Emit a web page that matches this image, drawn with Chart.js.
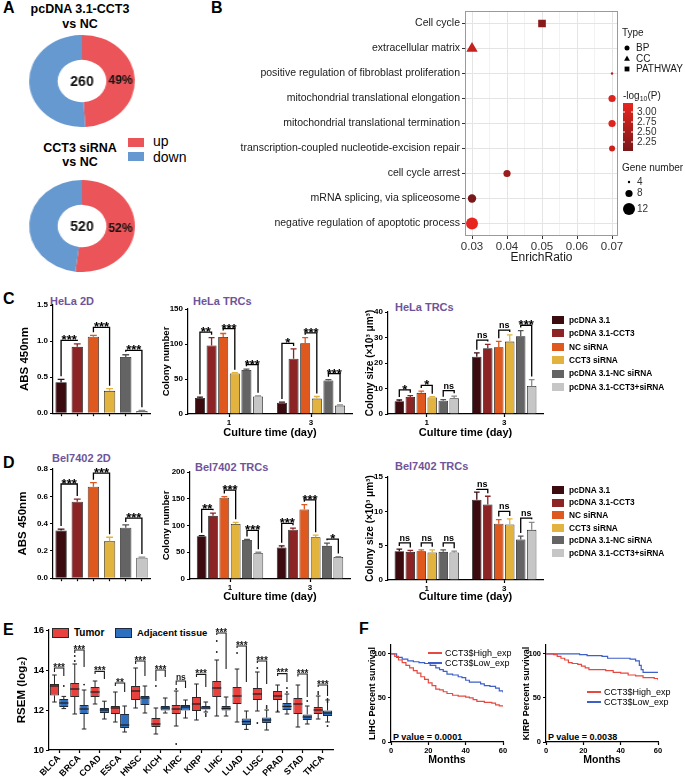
<!DOCTYPE html>
<html>
<head>
<meta charset="utf-8">
<script src="https://cdn.jsdelivr.net/npm/chart.js@4.4.1/dist/chart.umd.min.js"></script>
<style>
  body { margin: 0; background: #fff; }
  #page { position: relative; width: 685px; height: 780px; overflow: hidden;
          font-family: "Liberation Sans", Arial, sans-serif; color: #000; }
  .box { position: absolute; }
  .t { position: absolute; white-space: nowrap; font-weight: bold; line-height: 1; }
  .letter { font-size: 16px; }
  .ttl { font-size: 11px; color: #6f5499; }
  .sw { position: absolute; }
</style>
</head>
<body>
<div id="page">
  <!-- panel letters -->
  <div class="t letter" style="left:3px;top:0px">A</div>
  <div class="t letter" style="left:211px;top:0px">B</div>
  <div class="t letter" style="left:3px;top:291px">C</div>
  <div class="t letter" style="left:3px;top:455px">D</div>
  <div class="t letter" style="left:3px;top:622px">E</div>
  <div class="t letter" style="left:359px;top:621px">F</div>

  <!-- A titles + legend -->
  <div class="t" style="left:0;width:160px;text-align:center;top:3px;font-size:12.5px">pcDNA 3.1-CCT3</div>
  <div class="t" style="left:0;width:160px;text-align:center;top:18px;font-size:12.5px">vs NC</div>
  <div class="t" style="left:0;width:160px;text-align:center;top:142px;font-size:12.5px">CCT3 siRNA</div>
  <div class="t" style="left:0;width:160px;text-align:center;top:156px;font-size:12.5px">vs NC</div>
  <div class="sw" style="left:128px;top:138px;width:16px;height:9px;background:#eb5458"></div>
  <div class="t" style="left:153px;top:134px;font-size:14px;font-weight:normal">up</div>
  <div class="sw" style="left:128px;top:152px;width:16px;height:9px;background:#6699cf"></div>
  <div class="t" style="left:153px;top:150px;font-size:14px;font-weight:normal">down</div>

  <!-- purple titles -->
  <div class="t ttl" style="left:50px;top:295.6px">HeLa 2D</div>
  <div class="t ttl" style="left:193px;top:295.6px">HeLa TRCs</div>
  <div class="t ttl" style="left:395px;top:301.6px">HeLa TRCs</div>
  <div class="t ttl" style="left:52px;top:452.6px">Bel7402 2D</div>
  <div class="t ttl" style="left:195px;top:461.6px">Bel7402 TRCs</div>
  <div class="t ttl" style="left:395px;top:460.6px">Bel7402 TRCs</div>

  <!-- E legend -->
  <div class="sw" style="left:52px;top:628px;width:15px;height:8px;background:#e8413e;border:1px solid #2a2a2a"></div>
  <div class="t" style="left:74px;top:627.5px;font-size:10px">Tumor</div>
  <div class="sw" style="left:115px;top:628px;width:15px;height:8px;background:#2f6fbf;border:1px solid #1d2a3c"></div>
  <div class="t" style="left:137px;top:627.5px;font-size:9.5px">Adjacent tissue</div>

  <!-- F p values -->
  <div class="t" style="left:393px;top:732.5px;font-size:9px">P value = 0.0001</div>
  <div class="t" style="left:548px;top:732.5px;font-size:9px">P value = 0.0038</div>
</div>

<script>
Chart.defaults.font.family = '"Liberation Sans", Arial, sans-serif';
Chart.defaults.color = '#000';
Chart.defaults.animation = false;
Chart.defaults.maintainAspectRatio = false;
Chart.defaults.plugins.legend.display = false;
Chart.defaults.plugins.tooltip.enabled = false;

// ---------------- A: DEG donuts ----------------
const donutLabels = ['up', 'down'];
const donutColors = ['#eb5458', '#6699cf'];
const a1Share = [49, 51];
const a1Total = 260;
const a2Share = [52, 48];
const a2Total = 520;

// ---------------- B: enrichment ----------------
const bTerms = ['Cell cycle', 'extracellular matrix', 'positive regulation of fibroblast proliferation',
  'mitochondrial translational elongation', 'mitochondrial translational termination',
  'transcription-coupled nucleotide-excision repair', 'cell cycle arrest',
  'mRNA splicing, via spliceosome', 'negative regulation of apoptotic process'];
const bRatio = [0.05, 0.03, 0.07, 0.07, 0.07, 0.07, 0.04, 0.03, 0.03];
const bType = ['PATHWAY', 'CC', 'BP', 'BP', 'BP', 'BP', 'BP', 'BP', 'BP'];
const bLogP = [2.2, 2.85, 2.7, 3.1, 3.1, 2.95, 2.4, 2.05, 3.2];
const bGenes = [11, 13, 4, 8, 8, 7, 8, 9, 12];
const bTypeKeys = ['BP', 'CC', 'PATHWAY'];
const bLogPTicks = [3.00, 2.75, 2.50, 2.25];
const bGeneTicks = [4, 8, 12];

// ---------------- C / D: bars ----------------
const groups = ['pcDNA 3.1', 'pcDNA 3.1-CCT3', 'NC siRNA', 'CCT3 siRNA', 'pcDNA 3.1-NC siRNA', 'pcDNA 3.1-CCT3+siRNA'];
const groupColors = ['#3b0b10', '#8c2325', '#df591f', '#e3b33f', '#646464', '#c6c6c6'];
const errColors = ['#3b0b10', '#8c2325', '#df591f', '#e3b33f', '#555555', '#8a8a8a'];
const days = ['1', '3'];
const pairs = [[0, 1], [2, 3], [4, 5]];

const c1Mean = [0.43, 0.92, 1.06, 0.31, 0.78, 0.03];
const c1Err = [0.04, 0.04, 0.02, 0.03, 0.03, 0.01];
const c1SigY = [1.01, 1.19, 0.87];
const c1Sig = ['***', '***', '***'];

const c2Day1 = [23, 98, 110, 58, 63, 25];
const c2Err1 = [1, 11, 5, 1, 1, 1];
const c2Day3 = [16, 79, 101, 22, 48, 12];
const c2Err3 = [1, 14, 8, 3, 1, 1];
const c2SigY = [117, 122, 70.5, 101, 116, 57.6];
const c2Sig = ['**', '***', '***', '*', '***', '***'];

const c3Day1 = [5.0, 6.7, 8.3, 6.5, 5.2, 6.2];
const c3Err1 = [0.5, 0.5, 0.7, 0.3, 0.4, 0.8];
const c3Day3 = [22.5, 25.8, 26.2, 28.4, 30.5, 11.0];
const c3Err3 = [1.5, 1.5, 2.3, 2.6, 2.2, 2.5];
const c3SigY = [9.5, 11.2, 9.2, 29, 32.9, 34.8];
const c3Sig = ['*', '*', 'ns', 'ns', 'ns', '***'];

const d1Mean = [0.35, 0.56, 0.67, 0.27, 0.37, 0.15];
const d1Err = [0.01, 0.02, 0.03, 0.03, 0.02, 0.005];
const d1SigY = [0.69, 0.77, 0.44];
const d1Sig = ['***', '***', '***'];

const d2Day1 = [80, 118, 152, 103, 73, 48];
const d2Err1 = [1, 5, 2, 3, 1, 2];
const d2Day3 = [59, 92, 130, 78, 62, 41];
const d2Err3 = [3, 3, 9, 4, 5, 1];
const d2SigY = [130, 166, 91, 104, 148, 74.5];
const d2Sig = ['**', '***', '***', '***', '***', '*'];

const d3Day1 = [4.2, 4.1, 4.2, 4.0, 4.1, 4.0];
const d3Err1 = [0.3, 0.2, 0.2, 0.4, 0.3, 0.2];
const d3Day3 = [11.7, 11.0, 8.2, 8.1, 5.9, 7.3];
const d3Err3 = [1.1, 1.2, 0.6, 0.8, 0.5, 1.1];
const d3SigY = [5.4, 5.4, 5.4, 13.2, 10.0, 9.0];
const d3Sig = ['ns', 'ns', 'ns', 'ns', 'ns', 'ns'];

// ---------------- E: box plots ----------------
const eCats = ['BLCA', 'BRCA', 'COAD', 'ESCA', 'HNSC', 'KICH', 'KIRC', 'KIRP', 'LIHC', 'LUAD', 'LUSC', 'PRAD', 'STAD', 'THCA'];
const eSeries = ['Tumor', 'Adjacent tissue'];
const tMin = [12.4, 11.8, 12.3, 11.4, 12.1, 10.8, 11.2, 11.5, 11.7, 11.4, 11.95, 11.9, 11.15, 11.55];
const tQ1  = [12.73, 12.65, 12.65, 11.8, 12.5, 11.15, 11.8, 11.95, 12.65, 12.3, 12.5, 12.5, 11.8, 11.8];
const tMed = [13.2, 13.05, 12.9, 12.1, 12.95, 11.3, 12.05, 12.3, 13.1, 12.7, 12.8, 12.7, 12.3, 12.0];
const tQ3  = [13.3, 13.35, 13.15, 12.2, 13.2, 11.6, 12.25, 12.65, 13.45, 13.15, 13.1, 12.95, 12.6, 12.15];
const tMax = [13.75, 14.3, 13.45, 12.9, 14.1, 12.1, 12.95, 13.3, 14.5, 14.05, 13.9, 13.25, 13.25, 12.7];
const tOut = [[], [14.45, 14.7], [], [], [], [13.2], [13.05, 10.3], [], [14.9, 15.45], [14.85], [14.1, 11.35], [11.95], [], [12.8, 12.9]];
const aMin = [12.07, 11.05, 11.55, 10.9, 11.85, 11.85, 11.6, 11.9, 11.7, 11.03, 11.0, 11.8, 11.3, 11.4];
const aQ1  = [12.15, 11.8, 11.85, 11.1, 12.25, 11.97, 11.97, 12.02, 11.98, 11.25, 11.35, 12.0, 11.5, 11.7];
const aMed = [12.35, 12.05, 12.0, 11.25, 12.6, 12.1, 12.15, 12.1, 12.08, 11.42, 11.5, 12.18, 11.65, 11.85];
const aQ3  = [12.55, 12.25, 12.1, 11.8, 12.7, 12.2, 12.25, 12.2, 12.2, 11.57, 11.62, 12.35, 11.78, 11.98];
const aMax = [12.68, 13.0, 12.44, 12.2, 13.2, 12.6, 12.5, 12.4, 12.65, 11.95, 12.0, 12.8, 12.2, 12.5];
const aOut = [[13.2], [13.27], [], [], [], [], [], [11.8, 11.7], [], [], [12.1, 12.2], [13.1, 12.9], [12.45], [12.55, 12.4, 11.2]];
const eSigY = [14.1, 15.0, 13.93, 13.35, 14.45, 14.0, 13.45, 13.78, 15.85, 15.2, 14.45, 13.82, 13.8, 13.25];
const eSigL = [13.9, 14.85, 13.8, 13.2, 14.3, 13.45, 13.25, 13.65, 15.75, 15.1, 14.35, 13.7, 13.67, 13.15];
const eSigR = [13.7, 14.15, 13.55, 12.9, 13.7, 13.65, 13.1, 13.15, 14.05, 13.4, 13.3, 13.4, 12.65, 12.7];
const eSig = ['***', '***', '***', '**', '***', '***', 'ns', '***', '***', '***', '***', '***', '***', '***'];

// ---------------- F: survival ----------------
const survNames = ['CCT3$High_exp', 'CCT3$Low_exp'];
const survColors = ['#e5493f', '#3c5fc8'];
const survTicks = [0, 50, 100];
const lihcHighT = [0, 2, 4, 6, 8, 10, 12, 14, 16, 18, 20, 22, 24, 26, 28, 30, 33, 36, 40, 42, 44, 46, 50, 54, 56, 58, 60];
const lihcHighS = [100, 97, 93, 90, 87, 84, 81, 78, 74, 71, 67, 64, 60, 59, 57, 55, 53, 52, 51, 50, 48, 46, 45, 44, 42, 41, 41];
const lihcLowT = [0, 3, 6, 9, 12, 15, 18, 21, 24, 26, 28, 30, 33, 36, 38, 40, 42, 45, 48, 50, 53, 56, 58, 60];
const lihcLowS = [100, 96, 94, 92, 91, 90, 89, 87, 84, 82, 80, 77, 76, 74, 73, 70, 68, 68, 66, 64, 63, 61, 58, 56];
const kirpHighT = [0, 4, 6, 8, 10, 12, 14, 17, 19, 21, 23, 28, 32, 36, 40, 44, 48, 52, 58, 60];
const kirpHighS = [100, 99, 97, 95, 93, 90, 89, 88, 86, 84, 82, 82, 81, 79, 78, 76, 75, 73, 72, 70];
const kirpLowT = [0, 18, 22, 30, 33, 45, 48, 50, 51, 52, 60];
const kirpLowS = [100, 99, 98, 97, 95, 94, 92, 87, 82, 79, 79];

// ================= helpers =================
const page = document.getElementById('page');
const FONT = '"Liberation Sans", Arial, sans-serif';

function mount(b, extra) {
  const d = document.createElement('div');
  d.className = 'box';
  d.style.cssText = 'left:' + b.x + 'px;top:' + b.y + 'px;width:' + b.w + 'px;height:' + b.h + 'px;' + (extra || '');
  const c = document.createElement('canvas');
  d.appendChild(c);
  page.appendChild(d);
  return c;
}

function addDiv(css, text) {
  const d = document.createElement('div');
  d.style.cssText = 'position:absolute;' + css;
  if (text) d.textContent = text;
  page.appendChild(d);
}

const prismGrid = { drawOnChartArea: false, drawTicks: true, tickLength: 3, tickColor: '#000', tickWidth: 1.2, offset: false };
const prismBorder = { display: true, color: '#000', width: 1.2 };

// ================= A =================
function donutText(total, sx) {
  return {
    id: 'donutText',
    afterDraw(chart) {
      const ctx = chart.ctx;
      const arc = chart.getDatasetMeta(0).data[0];
      const share = chart.data.datasets[0].data[0];
      const p = arc.tooltipPosition();
      ctx.save();
      ctx.fillStyle = '#111';
      ctx.textAlign = 'center';
      ctx.textBaseline = 'middle';
      ctx.translate(arc.x, arc.y);
      ctx.scale(1 / sx, 1);
      ctx.font = 'bold 14px ' + FONT;
      ctx.fillText(String(total), 0, 1);
      ctx.restore();
      ctx.save();
      ctx.fillStyle = '#111';
      ctx.textAlign = 'center';
      ctx.textBaseline = 'middle';
      ctx.translate(p.x, p.y);
      ctx.scale(1 / sx, 1);
      ctx.font = 'bold 12px ' + FONT;
      ctx.fillText(share + '%', 0, 1);
      ctx.restore();
    }
  };
}

function donut(box, share, total) {
  const sx = 1.15;
  new Chart(mount(box, 'transform:scaleX(' + sx + ');transform-origin:50% 50%;'), {
    type: 'doughnut',
    data: { labels: donutLabels, datasets: [{ data: share, backgroundColor: donutColors, borderWidth: 0 }] },
    options: { cutout: '46%', layout: { padding: 0 } },
    plugins: [donutText(total, sx)]
  });
}
donut({ x: 32, y: 35, w: 100, h: 92 }, a1Share, a1Total);
donut({ x: 32, y: 180, w: 100, h: 92 }, a2Share, a2Total);

// ================= B =================
const lowRGB = [120, 24, 26], highRGB = [233, 37, 30];
const pRange = [2.025, 3.225];
function colorOf(v) {
  let t = (v - pRange[0]) / (pRange[1] - pRange[0]);
  t = Math.max(0, Math.min(1, t));
  const c = lowRGB.map((l, i) => Math.round(l + (highRGB[i] - l) * t));
  return 'rgb(' + c.join(',') + ')';
}
function sizeOf(g) { return 0.6 * g - 1.2; }
const styleOf = { BP: 'circle', CC: 'triangle', PATHWAY: 'rect' };

const bBox = { x: 200, y: 0, w: 485, h: 270 };
const bPlot = { l: 465, t: 11, r: 618, b: 236 };

const bDeco = {
  id: 'bDeco',
  afterDraw(chart) {
    const ctx = chart.ctx, a = chart.chartArea;
    const ox = -bBox.x;
    ctx.save();
    ctx.strokeStyle = '#9a9a9a';
    ctx.lineWidth = 1;
    ctx.strokeRect(a.left + 0.5, a.top + 0.5, a.right - a.left - 1, a.bottom - a.top - 1);

    ctx.fillStyle = '#1a1a1a';
    ctx.textBaseline = 'middle';
    ctx.textAlign = 'left';
    ctx.font = '10px ' + FONT;
    // Type
    ctx.fillText('Type', 622 + ox, 33);
    const typeY = [48, 59, 69];
    bTypeKeys.forEach((k, i) => {
      ctx.fillStyle = '#000';
      Chart.helpers.drawPoint(ctx, { pointStyle: styleOf[k], radius: k === 'BP' ? 2.5 : 3.4, rotation: 0, borderWidth: 0 }, 627 + ox, typeY[i]);
      ctx.fillStyle = '#1a1a1a';
      ctx.fillText(k, 636 + ox, typeY[i]);
    });
    // -log10(P)
    let x = 623 + ox;
    ctx.fillText('-log', x, 96);
    x += ctx.measureText('-log').width;
    ctx.font = '7px ' + FONT;
    ctx.fillText('10', x, 99);
    x += ctx.measureText('10').width;
    ctx.font = '10px ' + FONT;
    ctx.fillText('(P)', x, 96);
    const yOf = v => 112 + (3 - v) * 40;
    const top = yOf(pRange[1]), bot = yOf(pRange[0]);
    const grad = ctx.createLinearGradient(0, top, 0, bot);
    grad.addColorStop(0, colorOf(pRange[1]));
    grad.addColorStop(1, colorOf(pRange[0]));
    ctx.fillStyle = grad;
    ctx.fillRect(623 + ox, top, 10, bot - top);
    ctx.strokeStyle = '#fff';
    ctx.lineWidth = 1;
    ctx.font = '10px ' + FONT;
    bLogPTicks.forEach(v => {
      const y = yOf(v);
      ctx.beginPath();
      ctx.moveTo(623 + ox, y); ctx.lineTo(625 + ox, y);
      ctx.moveTo(631 + ox, y); ctx.lineTo(633 + ox, y);
      ctx.stroke();
      ctx.fillStyle = '#333';
      ctx.fillText(v.toFixed(2), 637 + ox, y);
    });
    // Gene number
    ctx.fillStyle = '#1a1a1a';
    ctx.font = '10px ' + FONT;
    ctx.fillText('Gene number', 622 + ox, 168);
    const gy = [182, 193.5, 209];
    bGeneTicks.forEach((g, i) => {
      ctx.fillStyle = '#000';
      Chart.helpers.drawPoint(ctx, { pointStyle: 'circle', radius: sizeOf(g), rotation: 0, borderWidth: 0 }, 629 + ox, gy[i]);
      ctx.fillStyle = '#333';
      ctx.font = '10px ' + FONT;
      ctx.fillText(String(g), 637 + ox, gy[i]);
    });
    ctx.restore();
  }
};

const isMajor = v => Math.round(v * 1000) % 10 === 0;
new Chart(mount(bBox), {
  type: 'scatter',
  data: {
    datasets: [{
      data: bTerms.map((t, i) => ({ x: bRatio[i], y: t })),
      pointStyle: bType.map(t => styleOf[t]),
      pointRadius: bGenes.map(sizeOf),
      backgroundColor: bLogP.map(colorOf),
      borderColor: bLogP.map(colorOf),
      borderWidth: 0
    }]
  },
  options: {
    layout: { padding: { top: bPlot.t - bBox.y, right: bBox.x + bBox.w - bPlot.r, left: 0, bottom: 0 } },
    scales: {
      x: {
        type: 'linear', min: 0.028, max: 0.0717,
        ticks: { stepSize: 0.005, includeBounds: false, color: '#333', font: { size: 11.5 }, padding: 1,
          autoSkip: false, maxRotation: 0, minRotation: 0,
          callback: v => isMajor(v) ? v.toFixed(2) : '' },
        grid: { color: c => (c.tick && isMajor(c.tick.value)) ? '#e4e4e4' : '#f2f2f2',
          tickColor: c => (c.tick && isMajor(c.tick.value)) ? '#333' : 'rgba(0,0,0,0)', tickLength: 3 },
        border: { display: false },
        title: { display: true, text: 'EnrichRatio', color: '#1a1a1a', font: { size: 12 }, padding: { top: 0, bottom: bBox.y + bBox.h - 258 - 7.2 } },
        afterFit: s => { s.height = bBox.y + bBox.h - bPlot.b; }
      },
      y: {
        type: 'category', labels: bTerms, offset: true,
        ticks: { color: '#1a1a1a', font: { size: 10.5 }, padding: 2, autoSkip: false },
        grid: { color: '#e4e4e4', tickColor: '#333', tickLength: 3 },
        border: { display: false },
        afterFit: s => { s.width = bPlot.l - bBox.x; }
      }
    }
  },
  plugins: [bDeco]
});

// ================= C / D bars =================
function makeErrSig(cfg, grouped) {
  return {
    id: 'errSig',
    afterDatasetsDraw(chart) {
      const ctx = chart.ctx, ys = chart.scales.y;
      const slots = [];
      chart.data.datasets.forEach((ds, di) => {
        chart.getDatasetMeta(di).data.forEach((el, i) => {
          const slot = grouped ? i * 6 + di : i;
          const err = grouped ? (i === 0 ? cfg.err1 : cfg.err3)[di] : cfg.err[i];
          const col = grouped ? errColors[di] : errColors[i];
          slots[slot] = { x: el.x, w: el.width, base: ys.getPixelForValue(ds.data[i]), top: ys.getPixelForValue(ds.data[i] + err), col };
        });
      });
      ctx.save();
      ctx.lineWidth = 1.3;
      slots.forEach(s => {
        ctx.strokeStyle = s.col;
        ctx.beginPath();
        ctx.moveTo(s.x, s.base); ctx.lineTo(s.x, s.top);
        ctx.moveTo(s.x - s.w * 0.3, s.top); ctx.lineTo(s.x + s.w * 0.3, s.top);
        ctx.stroke();
      });
      ctx.strokeStyle = '#000';
      ctx.fillStyle = '#000';
      ctx.textAlign = 'center';
      ctx.textBaseline = 'alphabetic';
      ctx.lineWidth = 1.3;
      cfg.sigY.forEach((v, k) => {
        const g = Math.floor(k / 3), p = pairs[k % 3];
        const a = slots[g * 6 + p[0]], b = slots[g * 6 + p[1]];
        const yb = ys.getPixelForValue(v);
        ctx.beginPath();
        ctx.moveTo(a.x, a.top - 3); ctx.lineTo(a.x, yb); ctx.lineTo(b.x, yb); ctx.lineTo(b.x, b.top - 3);
        ctx.stroke();
        const lab = cfg.sig[k];
        if (lab.indexOf('*') >= 0) {
          ctx.font = 'bold 13px ' + FONT;
          ctx.fillText(lab, (a.x + b.x) / 2, yb + 4);
        } else {
          ctx.font = 'bold 9px ' + FONT;
          ctx.fillText(lab, (a.x + b.x) / 2, yb - 2);
        }
      });
      ctx.restore();
    }
  };
}

function barPanel(cfg) {
  const grouped = !!cfg.day3;
  let labels, datasets;
  if (grouped) {
    labels = days;
    datasets = groups.map((g, i) => ({
      label: g, data: [cfg.day1[i], cfg.day3[i]],
      backgroundColor: groupColors[i], borderColor: '#1a1a1a', borderWidth: 0.8,
      barPercentage: 0.86, categoryPercentage: 0.85
    }));
  } else {
    labels = groups.map(() => '');
    datasets = [{ data: cfg.mean, backgroundColor: groupColors, borderColor: '#1a1a1a', borderWidth: 0.8,
      barPercentage: 0.7, categoryPercentage: 1 }];
  }
  const b = cfg.box, p = cfg.plot;
  const tickFont = { size: 8, weight: 'bold' };
  new Chart(mount(b), {
    type: 'bar',
    data: { labels, datasets },
    options: {
      layout: { padding: { top: p.t - b.y, right: b.x + b.w - p.r, left: 0, bottom: 0 } },
      scales: {
        x: {
          grid: prismGrid, border: prismBorder,
          ticks: { font: tickFont, padding: 1, autoSkip: false, maxRotation: 0 },
          title: cfg.xTitleY ? { display: true, text: 'Culture time (day)', font: { size: 11, weight: 'bold' },
            padding: { top: 0, bottom: b.y + b.h - cfg.xTitleY - 6.6 } } : { display: false },
          afterFit: s => { s.height = b.y + b.h - p.b; }
        },
        y: {
          min: 0, max: cfg.max,
          ticks: { stepSize: cfg.step, font: tickFont, padding: 2,
            callback: v => cfg.dec ? v.toFixed(cfg.dec) : String(v) },
          grid: prismGrid, border: prismBorder,
          title: { display: true, text: cfg.yTitle, font: { size: cfg.yTitleSize, weight: 'bold' },
            padding: { top: cfg.yTitleX - b.x - cfg.yTitleSize * 0.6, bottom: 0 } },
          afterFit: s => { s.width = p.l - b.x; }
        }
      }
    },
    plugins: [makeErrSig(cfg, grouped)]
  });
}

barPanel({ box: { x: 8, y: 290, w: 147, h: 130 }, plot: { l: 53, t: 305, r: 150, b: 415 },
  mean: c1Mean, err: c1Err, sigY: c1SigY, sig: c1Sig, max: 1.5, step: 0.5, dec: 1,
  yTitle: 'ABS 450nm', yTitleSize: 11.5, yTitleX: 25 });
barPanel({ box: { x: 150, y: 290, w: 206, h: 152 }, plot: { l: 188, t: 309, r: 352, b: 414 },
  day1: c2Day1, err1: c2Err1, day3: c2Day3, err3: c2Err3, sigY: c2SigY, sig: c2Sig, max: 150, step: 50,
  yTitle: 'Colony number', yTitleSize: 9.5, yTitleX: 166, xTitleY: 433 });
barPanel({ box: { x: 352, y: 295, w: 195, h: 147 }, plot: { l: 388, t: 312, r: 543, b: 414 },
  day1: c3Day1, err1: c3Err1, day3: c3Day3, err3: c3Err3, sigY: c3SigY, sig: c3Sig, max: 40, step: 10,
  yTitle: 'Colony size (×10³ μm³)', yTitleSize: 10, yTitleX: 370, xTitleY: 433 });
barPanel({ box: { x: 8, y: 455, w: 147, h: 130 }, plot: { l: 53, t: 469, r: 150, b: 580 },
  mean: d1Mean, err: d1Err, sigY: d1SigY, sig: d1Sig, max: 0.8, step: 0.2, dec: 1,
  yTitle: 'ABS 450nm', yTitleSize: 11.5, yTitleX: 23 });
barPanel({ box: { x: 150, y: 455, w: 206, h: 152 }, plot: { l: 190, t: 472, r: 350, b: 579 },
  day1: d2Day1, err1: d2Err1, day3: d2Day3, err3: d2Err3, sigY: d2SigY, sig: d2Sig, max: 200, step: 50,
  yTitle: 'Colony number', yTitleSize: 9.5, yTitleX: 166, xTitleY: 597 });
barPanel({ box: { x: 352, y: 460, w: 195, h: 147 }, plot: { l: 388, t: 477, r: 543, b: 580 },
  day1: d3Day1, err1: d3Err1, day3: d3Day3, err3: d3Err3, sigY: d3SigY, sig: d3Sig, max: 15, step: 5,
  yTitle: 'Colony size (×10³ μm³)', yTitleSize: 10, yTitleX: 370, xTitleY: 597 });

// C / D legends
function groupLegend(y0, step) {
  groups.forEach((g, i) => {
    const cy = y0 + i * step;
    addDiv('left:552px;top:' + (cy - 4) + 'px;width:12px;height:8px;background:' + groupColors[i] + ';');
    addDiv('left:569px;top:' + (cy - 4.2) + 'px;font-size:8.3px;font-weight:bold;line-height:1;white-space:nowrap;', g);
  });
}
groupLegend(320, 13.4);
groupLegend(490, 12.6);

// ================= E =================
const eBox = { x: 0, y: 615, w: 340, h: 165 };
const ePlot = { l: 49, t: 630, r: 333, b: 750 };
const eStats = [
  { min: tMin, q1: tQ1, med: tMed, q3: tQ3, max: tMax, out: tOut },
  { min: aMin, q1: aQ1, med: aMed, q3: aQ3, max: aMax, out: aOut }
];
const boxWhisk = {
  id: 'boxWhisk',
  beforeDatasetsDraw(chart) {
    const ctx = chart.ctx, ys = chart.scales.y;
    ctx.save();
    ctx.strokeStyle = '#222';
    ctx.lineWidth = 1;
    eStats.forEach((s, di) => {
      chart.getDatasetMeta(di).data.forEach((el, i) => {
        const x = el.x, cw = el.width * 0.25;
        const yMax = ys.getPixelForValue(s.max[i]), yMin = ys.getPixelForValue(s.min[i]);
        ctx.beginPath();
        ctx.moveTo(x, ys.getPixelForValue(s.q3[i])); ctx.lineTo(x, yMax);
        ctx.moveTo(x - cw, yMax); ctx.lineTo(x + cw, yMax);
        ctx.moveTo(x, ys.getPixelForValue(s.q1[i])); ctx.lineTo(x, yMin);
        ctx.moveTo(x - cw, yMin); ctx.lineTo(x + cw, yMin);
        ctx.stroke();
      });
    });
    ctx.restore();
  },
  afterDatasetsDraw(chart) {
    const ctx = chart.ctx, ys = chart.scales.y;
    ctx.save();
    ctx.strokeStyle = '#1a1a1a';
    ctx.fillStyle = '#1a1a1a';
    eStats.forEach((s, di) => {
      chart.getDatasetMeta(di).data.forEach((el, i) => {
        const x = el.x, hw = el.width / 2;
        const ym = ys.getPixelForValue(s.med[i]);
        ctx.lineWidth = 1.2;
        ctx.beginPath();
        ctx.moveTo(x - hw, ym); ctx.lineTo(x + hw, ym);
        ctx.stroke();
        s.out[i].forEach(v => {
          ctx.beginPath();
          ctx.arc(x, ys.getPixelForValue(v), 0.9, 0, Math.PI * 2);
          ctx.fill();
        });
      });
    });
    // significance brackets
    const mT = chart.getDatasetMeta(0).data, mA = chart.getDatasetMeta(1).data;
    ctx.lineWidth = 1.1;
    ctx.textAlign = 'center';
    ctx.textBaseline = 'alphabetic';
    eSigY.forEach((v, i) => {
      const xa = mT[i].x, xb = mA[i].x, yb = ys.getPixelForValue(v);
      ctx.beginPath();
      ctx.moveTo(xa, ys.getPixelForValue(eSigL[i])); ctx.lineTo(xa, yb);
      ctx.lineTo(xb, yb); ctx.lineTo(xb, ys.getPixelForValue(eSigR[i]));
      ctx.stroke();
      if (eSig[i].indexOf('*') >= 0) {
        ctx.font = 'bold 10px ' + FONT;
        ctx.fillText(eSig[i], (xa + xb) / 2, yb + 2.8);
      } else {
        ctx.font = 'bold 8.5px ' + FONT;
        ctx.fillText(eSig[i], (xa + xb) / 2, yb - 1.5);
      }
    });
    ctx.restore();
  }
};

new Chart(mount(eBox), {
  type: 'bar',
  data: {
    labels: eCats,
    datasets: [
      { label: eSeries[0], data: eCats.map((c, i) => [tQ1[i], tQ3[i]]), backgroundColor: '#e8413e',
        borderColor: '#2a2a2a', borderWidth: 1, borderSkipped: false, barPercentage: 0.98, categoryPercentage: 0.92 },
      { label: eSeries[1], data: eCats.map((c, i) => [aQ1[i], aQ3[i]]), backgroundColor: '#2f6fbf',
        borderColor: '#1d2a3c', borderWidth: 1, borderSkipped: false, barPercentage: 0.98, categoryPercentage: 0.92 }
    ]
  },
  options: {
    layout: { padding: { top: ePlot.t - eBox.y, right: eBox.x + eBox.w - ePlot.r, left: 0, bottom: 0 } },
    scales: {
      x: {
        grid: prismGrid, border: prismBorder,
        ticks: { font: { size: 9, weight: 'bold' }, minRotation: 45, maxRotation: 45, autoSkip: false, padding: 0 },
        afterFit: s => { s.height = eBox.y + eBox.h - ePlot.b; }
      },
      y: {
        min: 10, max: 16,
        ticks: { stepSize: 2, font: { size: 9.5, weight: 'bold' }, padding: 2 },
        grid: prismGrid, border: prismBorder,
        title: { display: true, text: 'RSEM (log₂)', font: { size: 11.5, weight: 'bold' }, padding: { top: 22 - eBox.x - 6.9, bottom: 0 } },
        afterFit: s => { s.width = ePlot.l - eBox.x; }
      }
    }
  },
  plugins: [boxWhisk]
});

// ================= F =================
function survPanel(box, plot, yTitle, yTitleX, highT, highS, lowT, lowS) {
  const tickFont = { size: 7.5, weight: 'bold' };
  new Chart(mount(box), {
    type: 'line',
    data: {
      datasets: [
        { label: survNames[0], data: highT.map((t, i) => ({ x: t, y: highS[i] })), borderColor: survColors[0],
          borderWidth: 1.2, stepped: true, pointRadius: 0, fill: false },
        { label: survNames[1], data: lowT.map((t, i) => ({ x: t, y: lowS[i] })), borderColor: survColors[1],
          borderWidth: 1.2, stepped: true, pointRadius: 0, fill: false }
      ]
    },
    options: {
      layout: { padding: { top: plot.t - box.y, right: box.x + box.w - plot.r, left: 0, bottom: 0 } },
      scales: {
        x: {
          type: 'linear', min: 0, max: 60,
          ticks: { stepSize: 20, font: tickFont, padding: 1 },
          grid: prismGrid, border: prismBorder,
          title: { display: true, text: 'Months', font: { size: 10.5, weight: 'bold' }, padding: { top: 0, bottom: box.y + box.h - 760 - 6.3 } },
          afterFit: s => { s.height = box.y + box.h - plot.b; }
        },
        y: {
          min: 0, max: 110,
          afterBuildTicks: s => { s.ticks = survTicks.map(v => ({ value: v })); },
          ticks: { font: tickFont, padding: 2 },
          grid: prismGrid, border: prismBorder,
          title: { display: true, text: yTitle, font: { size: 9, weight: 'bold' }, padding: { top: yTitleX - box.x - 5.4, bottom: 0 } },
          afterFit: s => { s.width = plot.l - box.x; }
        }
      }
    }
  });
}
survPanel({ x: 360, y: 630, w: 150, h: 150 }, { l: 391, t: 645, r: 503, b: 742 }, 'LIHC Percent survival', 373,
  lihcHighT, lihcHighS, lihcLowT, lihcLowS);
survPanel({ x: 515, y: 630, w: 150, h: 150 }, { l: 546, t: 645, r: 658, b: 742 }, 'KIRP Percent survival', 527,
  kirpHighT, kirpHighS, kirpLowT, kirpLowS);

// F legends
function survLegend(x, y0, step) {
  survNames.forEach((n, i) => {
    const cy = y0 + i * step;
    addDiv('left:' + x + 'px;top:' + (cy - 0.75) + 'px;width:14px;height:1.5px;background:' + survColors[i] + ';');
    addDiv('left:' + (x + 17) + 'px;top:' + (cy - 4.5) + 'px;font-size:9px;line-height:1;white-space:nowrap;font-family:"Liberation Sans Narrow","Arial Narrow","Liberation Sans",Arial,sans-serif;', n);
  });
}
survLegend(428, 653, 10);
survLegend(587, 692, 10);
</script>
</body>
</html>
